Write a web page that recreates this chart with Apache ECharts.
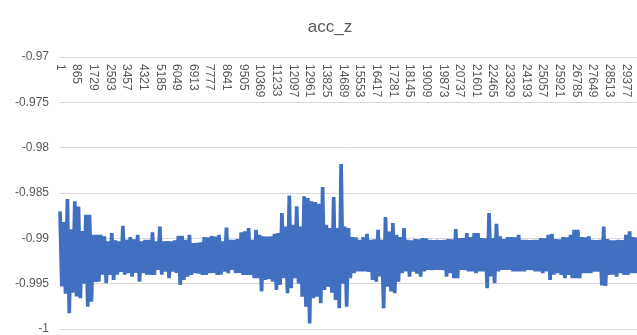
<!DOCTYPE html>
<html>
<head>
<meta charset="utf-8">
<script src="https://cdn.jsdelivr.net/npm/echarts@6/dist/echarts.min.js"></script>
<style>
html,body{margin:0;padding:0;background:#fff;}
#chart{width:637px;height:335px;}
</style>
</head>
<body>
<div id="chart"></div>
<script>
// acc_z readings, one value every 96 samples (alternating crest / trough of the vibration band)
const accZ = [
-0.98703,-0.99532,-0.9882,-0.9961,-0.98566,-0.99827,-0.9890,-0.9960,-0.98592,-0.9964,
-0.9865,-0.9966,-0.9892,-0.9950,-0.9874,-0.99753,-0.9874,-0.9970,-0.9896,-0.9948,
-0.98961,-0.99477,-0.98961,-0.9940,-0.98979,-0.99495,-0.99034,-0.99403,-0.98942,-0.99458,
-0.99023,-0.9940,-0.99034,-0.9937,-0.98861,-0.9940,-0.99016,-0.99385,-0.98987,-0.99422,
-0.9901,-0.9938,-0.98961,-0.99477,-0.99034,-0.99385,-0.99016,-0.9940,-0.99016,-0.99403,
-0.98935,-0.99403,-0.99034,-0.99348,-0.98869,-0.9940,-0.99034,-0.99366,-0.9903,-0.9944,
-0.99034,-0.99366,-0.99023,-0.9938,-0.98972,-0.99514,-0.98972,-0.99458,-0.99016,-0.99422,
-0.98961,-0.99403,-0.99053,-0.99385,-0.9905,-0.9939,-0.99045,-0.99403,-0.98987,-0.99403,
-0.9899,-0.99385,-0.98972,-0.9938,-0.9898,-0.99403,-0.98961,-0.9940,-0.99034,-0.99366,
-0.9888,-0.99385,-0.99016,-0.99348,-0.99016,-0.99385,-0.99009,-0.9938,-0.98935,-0.99403,
-0.98924,-0.99403,-0.98887,-0.99403,-0.99016,-0.9944,-0.98905,-0.9944,-0.98961,-0.99587,
-0.98979,-0.99458,-0.9898,-0.9945,-0.98979,-0.99477,-0.9895,-0.99569,-0.98942,-0.99514,
-0.98721,-0.9944,-0.98869,-0.99606,-0.98529,-0.9955,-0.9885,-0.9944,-0.98647,-0.9950,
-0.98869,-0.99643,-0.98537,-0.99753,-0.98555,-0.9994,-0.98592,-0.9966,-0.9860,-0.99643,
-0.9862,-0.99716,-0.98434,-0.99569,-0.9885,-0.99532,-0.98887,-0.9960,-0.98544,-0.9968,
-0.98887,-0.99772,-0.9818,-0.9950,-0.98869,-0.99753,-0.98887,-0.9944,-0.98987,-0.99385,
-0.9899,-0.99366,-0.99016,-0.99366,-0.98987,-0.99366,-0.9895,-0.9937,-0.99016,-0.99458,
-0.9901,-0.99477,-0.98905,-0.9942,-0.99016,-0.99772,-0.98765,-0.99532,-0.98924,-0.99587,
-0.98832,-0.99606,-0.98961,-0.99477,-0.98987,-0.99385,-0.98887,-0.99366,-0.99016,-0.99422,
-0.99023,-0.99366,-0.99009,-0.9939,-0.9901,-0.99422,-0.98998,-0.99366,-0.9900,-0.99348,
-0.99016,-0.9935,-0.9902,-0.99348,-0.99016,-0.99348,-0.9902,-0.9935,-0.99016,-0.99422,
-0.99009,-0.99385,-0.9901,-0.9944,-0.98898,-0.9944,-0.98998,-0.99348,-0.98998,-0.9935,
-0.98942,-0.99366,-0.98987,-0.99366,-0.98942,-0.99385,-0.98942,-0.99366,-0.98998,-0.99366,
-0.9900,-0.9955,-0.98721,-0.9942,-0.98998,-0.99495,-0.98839,-0.99366,-0.98979,-0.99348,
-0.99009,-0.99348,-0.98987,-0.99348,-0.98987,-0.99366,-0.9899,-0.99366,-0.98961,-0.99366,
-0.99016,-0.99366,-0.99016,-0.99348,-0.9902,-0.9935,-0.99016,-0.99366,-0.99016,-0.99366,
-0.98998,-0.99385,-0.9900,-0.99366,-0.98961,-0.99458,-0.9895,-0.9940,-0.99009,-0.99385,
-0.9901,-0.99403,-0.98987,-0.9944,-0.9899,-0.99403,-0.98961,-0.9944,-0.98905,-0.9944,
-0.98905,-0.9944,-0.98987,-0.99385,-0.9899,-0.99385,-0.98979,-0.99385,-0.99016,-0.99366,
-0.9902,-0.99366,-0.99016,-0.9952,-0.98869,-0.99525,-0.99009,-0.99403,-0.99023,-0.9940,
-0.99023,-0.99422,-0.99016,-0.99385,-0.9902,-0.99403,-0.98961,-0.99403,-0.98924,-0.99385,
-0.98987,-0.99385,-0.9899
];

// sample number of each reading (category axis)
const sampleStep = 96;
const categories = accZ.map((_, i) => String(1 + sampleStep * i));

// tick labels shown along the top axis
const tickLabels = [1,865,1729,2593,3457,4321,5185,6049,6913,7777,8641,9505,10369,11233,12097,12961,
13825,14689,15553,16417,17281,18145,19009,19873,20737,21601,22465,23329,24193,25057,25921,26785,
27649,28513,29377];

const yMin = -1, yMax = -0.97, yStep = 0.005;
const titleText = 'acc_z';

const chart = echarts.init(document.getElementById('chart'), null, {renderer: 'canvas'});
chart.setOption({
  animation: false,
  backgroundColor: '#ffffff',
  title: {
    text: titleText,
    left: 330,
    textAlign: 'center',
    top: 19,
    padding: 0,
    textStyle: {fontFamily: 'Liberation Sans', fontSize: 17, fontWeight: 'normal', color: '#595959'}
  },
  grid: {left: 60, right: 0, top: 57, bottom: 6, containLabel: false},
  xAxis: {
    type: 'category',
    position: 'top',
    data: categories,
    boundaryGap: false,
    axisLine: {show: true, lineStyle: {color: '#d9d9d9', width: 1}},
    axisTick: {show: false},
    splitLine: {show: false},
    axisLabel: {
      inside: true,
      rotate: 90,
      margin: 7,
      interval: (idx, val) => tickLabels.includes(Number(val)),
      color: '#595959',
      fontFamily: 'Liberation Sans',
      fontSize: 12
    }
  },
  yAxis: {
    type: 'value',
    min: yMin,
    max: yMax,
    interval: yStep,
    axisLine: {show: false},
    axisTick: {show: false},
    splitLine: {show: true, lineStyle: {color: '#d9d9d9', width: 1}},
    axisLabel: {
      margin: 11,
      color: '#595959',
      fontFamily: 'Liberation Sans',
      fontSize: 12,
      formatter: v => String(+v.toFixed(3))
    }
  },
  series: [{
    type: 'line',
    data: accZ,
    showSymbol: false,
    symbol: 'none',
    sampling: null,
    lineStyle: {color: '#4170c0', width: 3.7, join: 'bevel'},
    itemStyle: {color: '#4170c0'}
  }]
});
</script>
</body>
</html>
